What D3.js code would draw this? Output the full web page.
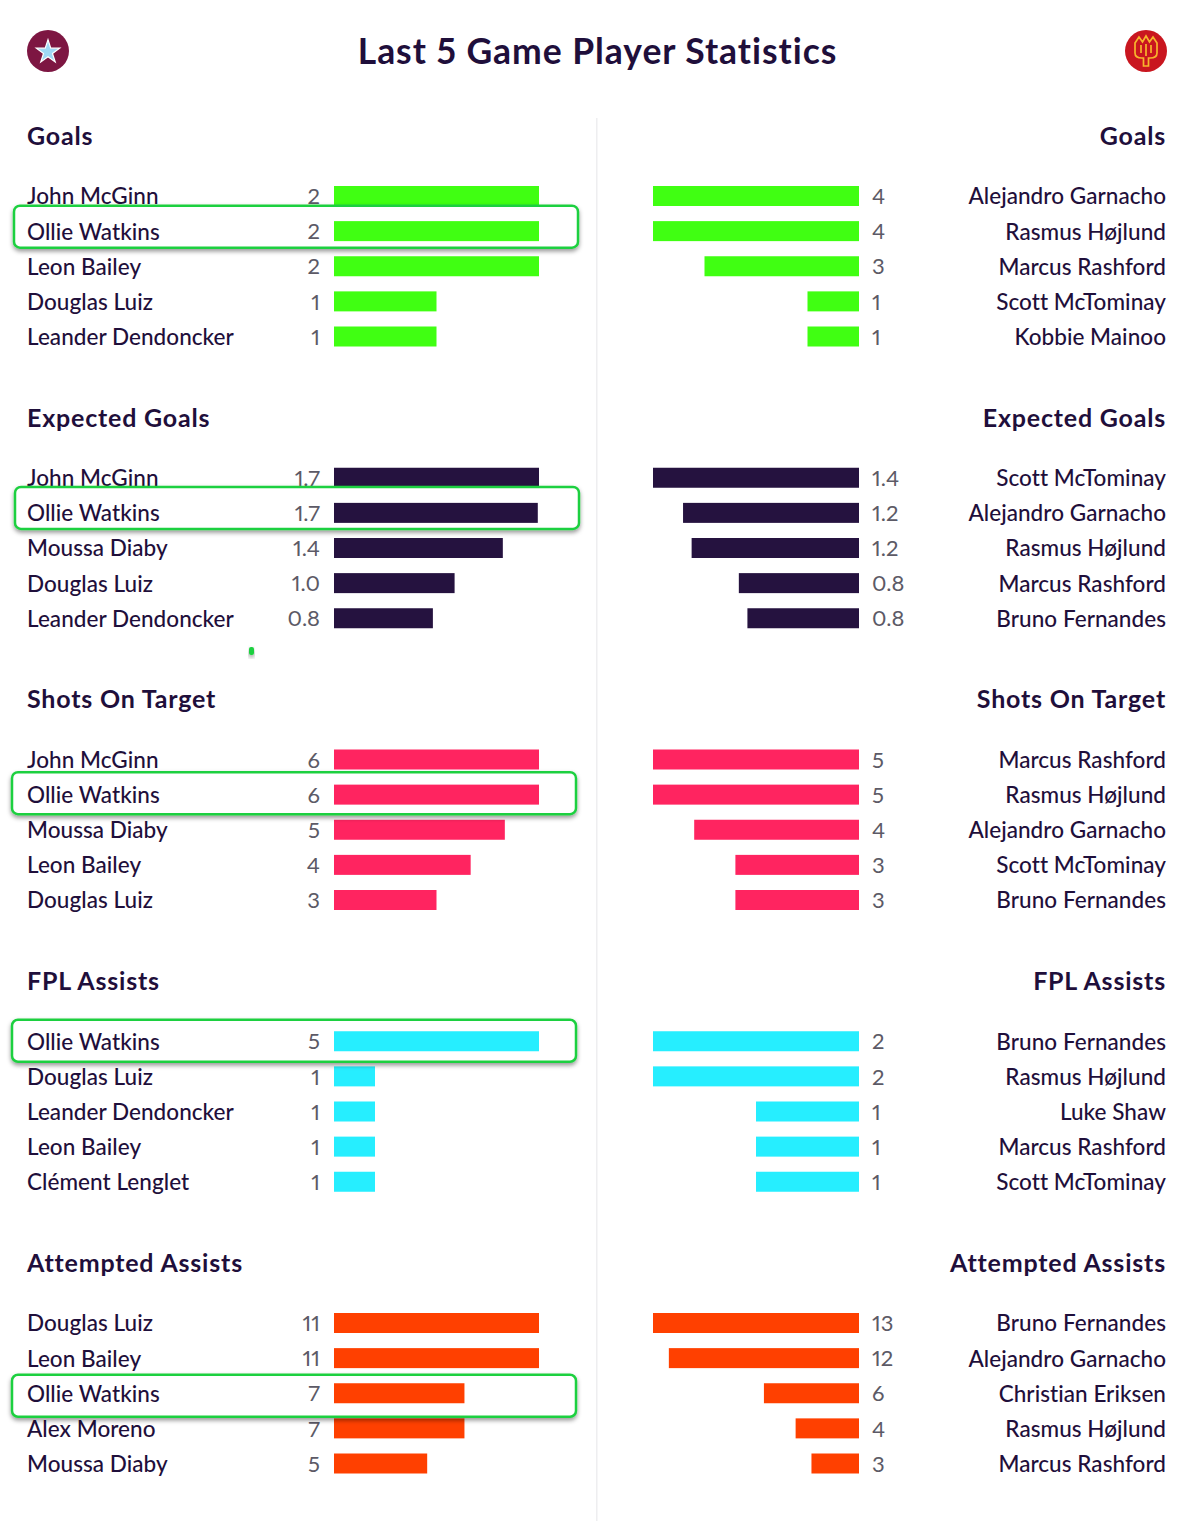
<!DOCTYPE html>
<html><head><meta charset="utf-8">
<script src="https://cdn.jsdelivr.net/npm/d3@7/dist/d3.min.js"></script>
<style>html,body{margin:0;padding:0;background:#fff}svg{display:block}text{font-family:Lato,"Noto Sans",sans-serif;font-variant-numeric:proportional-nums;font-feature-settings:"pnum" 1,"kern" 1}</style>
</head><body><svg id="c" width="1200" height="1521"></svg>
<script>
const sectionTitles = ["Goals","Expected Goals","Shots On Target","FPL Assists","Attempted Assists"];
const sectionColors = ["#40ff12","#25123f","#ff2460","#26eeff","#ff4000"];
const sectionDecimals = [0,1,0,0,0];

const goalsLeftNames = ["John McGinn","Ollie Watkins","Leon Bailey","Douglas Luiz","Leander Dendoncker"];
const goalsLeftValues = [2,2,2,1,1];
const goalsRightNames = ["Alejandro Garnacho","Rasmus Højlund","Marcus Rashford","Scott McTominay","Kobbie Mainoo"];
const goalsRightValues = [4,4,3,1,1];

const xgLeftNames = ["John McGinn","Ollie Watkins","Moussa Diaby","Douglas Luiz","Leander Dendoncker"];
const xgLeftValues = [1.70,1.69,1.40,1.00,0.82];
const xgRightNames = ["Scott McTominay","Alejandro Garnacho","Rasmus Højlund","Marcus Rashford","Bruno Fernandes"];
const xgRightValues = [1.44,1.23,1.17,0.84,0.78];

const sotLeftNames = ["John McGinn","Ollie Watkins","Moussa Diaby","Leon Bailey","Douglas Luiz"];
const sotLeftValues = [6,6,5,4,3];
const sotRightNames = ["Marcus Rashford","Rasmus Højlund","Alejandro Garnacho","Scott McTominay","Bruno Fernandes"];
const sotRightValues = [5,5,4,3,3];

const assistLeftNames = ["Ollie Watkins","Douglas Luiz","Leander Dendoncker","Leon Bailey","Clément Lenglet"];
const assistLeftValues = [5,1,1,1,1];
const assistRightNames = ["Bruno Fernandes","Rasmus Højlund","Luke Shaw","Marcus Rashford","Scott McTominay"];
const assistRightValues = [2,2,1,1,1];

const attemptLeftNames = ["Douglas Luiz","Leon Bailey","Ollie Watkins","Alex Moreno","Moussa Diaby"];
const attemptLeftValues = [11,11,7,7,5];
const attemptRightNames = ["Bruno Fernandes","Alejandro Garnacho","Christian Eriksen","Rasmus Højlund","Marcus Rashford"];
const attemptRightValues = [13,12,6,4,3];

const leftNames = [goalsLeftNames,xgLeftNames,sotLeftNames,assistLeftNames,attemptLeftNames];
const leftValues = [goalsLeftValues,xgLeftValues,sotLeftValues,assistLeftValues,attemptLeftValues];
const rightNames = [goalsRightNames,xgRightNames,sotRightNames,assistRightNames,attemptRightNames];
const rightValues = [goalsRightValues,xgRightValues,sotRightValues,assistRightValues,attemptRightValues];
const highlightPlayer = "Ollie Watkins";
const highlightShift = [[14,-4.5],[15,-5],[12,-1.5],[12,-0.5],[12,2.5]];

const svg = d3.select("#c");
const INK = "#1f0f3b", GREY = "#5c5a66", GREEN = "#1fd03f";

const defs = svg.append("defs");
const f = defs.append("filter").attr("id","sh").attr("x","-5%").attr("y","-30%").attr("width","110%").attr("height","170%");
f.append("feDropShadow").attr("dx",0).attr("dy",2.5).attr("stdDeviation",2).attr("flood-color","#000").attr("flood-opacity",0.4);

svg.append("text").attr("x",597.5).attr("y",52).attr("dy","0.35em").attr("text-anchor","middle")
  .attr("font-size",35.5).attr("font-weight",700).attr("letter-spacing",0.95).attr("fill",INK).text("Last 5 Game Player Statistics");

// divider
svg.append("rect").attr("x",596).attr("y",118).attr("width",1.5).attr("height",1403).attr("fill","#eeeef0");

// club badges
const av = svg.append("g").attr("transform","translate(48,51)");
av.append("circle").attr("r",21).attr("fill","#7d1642");
av.append("path").attr("d",d3.symbol(d3.symbolStar,170)()).attr("transform","translate(0,1)").attr("fill","#9fd8f5").attr("stroke","#fff").attr("stroke-width",1.2);
const mu = svg.append("g").attr("transform","translate(1146,51)");
mu.append("circle").attr("r",21).attr("fill","#c9161f");
mu.append("path").attr("fill","none").attr("stroke","#f7b52c").attr("stroke-width",1.7)
  .attr("d","M-11,-8 L-7,-14 L-3.5,-9 L0,-15 L3.5,-9 L7,-14 L11,-8 L11,2 Q11,7 4,7 L2.5,7 L2.5,15 L-2.5,15 L-2.5,7 L-4,7 Q-11,7 -11,2 Z M-5,-6 V2 M5,-6 V2 M0,-7 V5");

// scales
const sectionY = d3.scalePoint().domain(d3.range(5)).range([0,1127]);
const rowY = d3.scalePoint().domain(d3.range(5)).range([60,200.5]);
const BAR_H = 20;
const TEXT_NUDGE = 0.5;

sectionTitles.forEach((title,s)=>{
  const g = svg.append("g").attr("transform",`translate(0,${136+sectionY(s)})`);
  [["left",leftNames[s],leftValues[s]],["right",rightNames[s],rightValues[s]]].forEach(([side,names,vals])=>{
    const isL = side==="left";
    const w = d3.scaleLinear().domain([0,d3.max(vals)]).range([0,isL?205:206]);
    const fmt = d3.format(`.${sectionDecimals[s]}f`);
    g.append("text").attr("x",isL?27:1166).attr("y",0).attr("dy","0.35em")
      .attr("text-anchor",isL?"start":"end").attr("font-size",25).attr("font-weight",700).attr("letter-spacing",0.8).attr("fill",INK).text(title);
    const rows = names.map((n,i)=>({n,v:vals[i],i}));
    const drawRow = d=>{
      const y = rowY(d.i);
      g.append("text").attr("x",isL?27:1166).attr("y",y+TEXT_NUDGE).attr("dy","0.35em")
        .attr("text-anchor",isL?"start":"end").attr("font-size",22.5).attr("font-weight",500).attr("letter-spacing",0.05).attr("fill",INK).text(d.n);
      g.append("text").attr("x",isL?320:872).attr("y",y+TEXT_NUDGE).attr("dy","0.35em")
        .attr("text-anchor",isL?"end":"start").attr("font-size",22).attr("font-weight",400).attr("fill",GREY).text(fmt(d.v));
      g.append("rect").attr("x",isL?334:859-w(d.v)).attr("y",y-BAR_H/2).attr("width",w(d.v)).attr("height",BAR_H).attr("fill",sectionColors[s]);
    };
    rows.filter(d=>!(isL&&d.n===highlightPlayer)).forEach(drawRow);
    if(isL){
      const h = rows.find(d=>d.n===highlightPlayer);
      g.append("rect").attr("x",highlightShift[s][0]).attr("y",rowY(h.i)+highlightShift[s][1]-21).attr("width",564).attr("height",42).attr("rx",6)
        .attr("fill","#fff").attr("stroke",GREEN).attr("stroke-width",2.5).attr("filter","url(#sh)");
      drawRow(h);
    }
  });
});

// stray highlight speck
svg.append("rect").attr("x",249).attr("y",647).attr("width",5).attr("height",8).attr("rx",2).attr("fill",GREEN).attr("filter","url(#sh)");
</script></body></html>
